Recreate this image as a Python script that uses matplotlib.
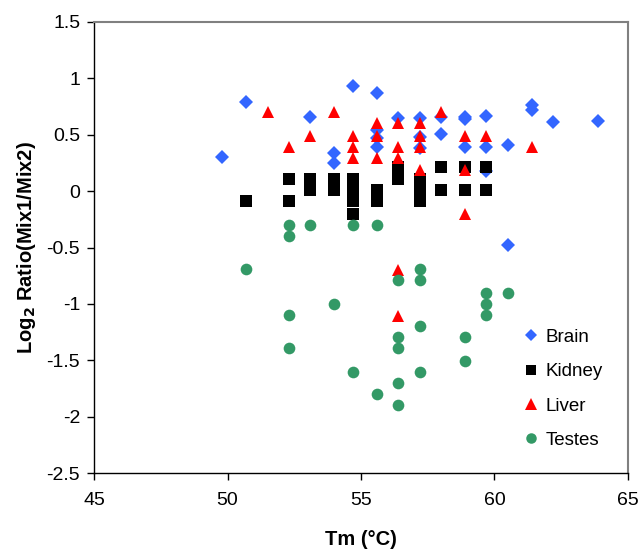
import matplotlib
matplotlib.use("Agg")
import matplotlib.pyplot as plt
import matplotlib.ticker as ticker

plt.rcParams['font.family'] = ['Liberation Sans', 'DejaVu Sans']
plt.rcParams['axes.unicode_minus'] = False

# Brain
brain_tm = [49.8, 50.7, 53.1, 54.0, 54.0, 54.7, 55.6, 55.6, 55.6, 55.6,
            56.4, 57.2, 57.2, 57.2, 58.0, 58.0, 58.9, 58.9, 58.9,
            59.7, 59.7, 59.7, 60.5, 60.5, 61.4, 61.4, 62.2, 63.9]
brain_ratio = [0.30, 0.79, 0.66, 0.34, 0.25, 0.93, 0.87, 0.54, 0.47, 0.39,
               0.65, 0.65, 0.48, 0.38, 0.66, 0.51, 0.66, 0.64, 0.39,
               0.67, 0.39, 0.18, 0.41, -0.48, 0.76, 0.72, 0.61, 0.62]

# Kidney
kidney_tm = [50.7, 52.3, 52.3, 53.1, 53.1, 53.1, 54.0, 54.0, 54.0,
             54.7, 54.7, 54.7, 54.7, 54.7, 55.6, 55.6, 55.6,
             56.4, 56.4, 57.2, 57.2, 57.2, 57.2, 58.0, 58.0,
             58.9, 58.9, 59.7, 59.7]
kidney_ratio = [-0.09, 0.11, -0.09, 0.11, 0.05, 0.01, 0.11, 0.05, 0.01,
                0.11, 0.03, 0.0, -0.09, -0.20, 0.01, -0.03, -0.09,
                0.21, 0.11, 0.11, 0.03, 0.0, -0.09, 0.21, 0.01,
                0.21, 0.01, 0.21, 0.01]

# Liver
liver_tm = [51.5, 52.3, 53.1, 54.0, 54.7, 54.7, 54.7, 55.6, 55.6, 55.6,
            56.4, 56.4, 56.4, 56.4, 56.4, 57.2, 57.2, 57.2, 57.2,
            58.0, 58.9, 58.9, 58.9, 59.7, 61.4]
liver_ratio = [0.70, 0.39, 0.49, 0.70, 0.49, 0.39, 0.29, 0.60, 0.49, 0.29,
               0.60, 0.39, 0.29, -0.70, -1.11, 0.60, 0.49, 0.39, 0.19,
               0.70, 0.49, 0.19, -0.20, 0.49, 0.39]

# Testes
testes_tm = [50.7, 52.3, 52.3, 52.3, 52.3, 53.1, 54.0, 54.7, 54.7, 55.6, 55.6,
             56.4, 56.4, 56.4, 56.4, 56.4, 57.2, 57.2, 57.2, 57.2,
             58.9, 58.9, 59.7, 59.7, 59.7, 60.5]
testes_ratio = [-0.69, -0.30, -0.40, -1.10, -1.39, -0.30, -1.00, -0.30, -1.60, -0.30, -1.80,
                -0.79, -1.29, -1.39, -1.70, -1.90, -0.69, -0.79, -1.20, -1.60,
                -1.29, -1.51, -0.90, -1.00, -1.10, -0.90]

fig = plt.figure(figsize=(6.4, 5.5), dpi=100)
ax = fig.add_axes([0.147, 0.14, 0.834, 0.82])

ax.plot(brain_tm, brain_ratio, 'D', color='#3366FF', ms=7, mew=0, label='Brain')
ax.plot(kidney_tm, kidney_ratio, 's', color='black', ms=8.2, mew=0, label='Kidney')
ax.plot(liver_tm, liver_ratio, '^', color='#FF0000', ms=9.2, mew=0, label='Liver')
ax.plot(testes_tm, testes_ratio, 'o', color='#339966', ms=8.4, mew=0, label='Testes')

ax.set_xlim(45, 65)
ax.set_ylim(-2.5, 1.5)
ax.xaxis.set_major_locator(ticker.MultipleLocator(5))
ax.yaxis.set_major_locator(ticker.MultipleLocator(0.5))
fmt = ticker.FuncFormatter(lambda v, p: '%g' % v)
ax.xaxis.set_major_formatter(fmt)
ax.yaxis.set_major_formatter(fmt)
ax.tick_params(direction='out', length=5, width=1, labelsize=14, pad=5)
ax.tick_params(axis='x', pad=9)

for s in ['top', 'right']:
    ax.spines[s].set_color('#808080')
    ax.spines[s].set_linewidth(1.5)
for s in ['left', 'bottom']:
    ax.spines[s].set_color('black')
    ax.spines[s].set_linewidth(1)

ax.set_xlabel('Tm (°C)', fontsize=14.5, fontweight='bold', labelpad=15)
ax.set_ylabel('Log$_\\mathbf{2}$ Ratio(Mix1/Mix2)', fontsize=14.5, fontweight='bold', labelpad=6)

ax.legend(loc='lower right', bbox_to_anchor=(0.985, 0.016), frameon=False,
          fontsize=13.5, handletextpad=0.3, labelspacing=0.92, numpoints=1,
          handlelength=1.0, markerscale=0.9)

fig.savefig('out.png', dpi=100)
